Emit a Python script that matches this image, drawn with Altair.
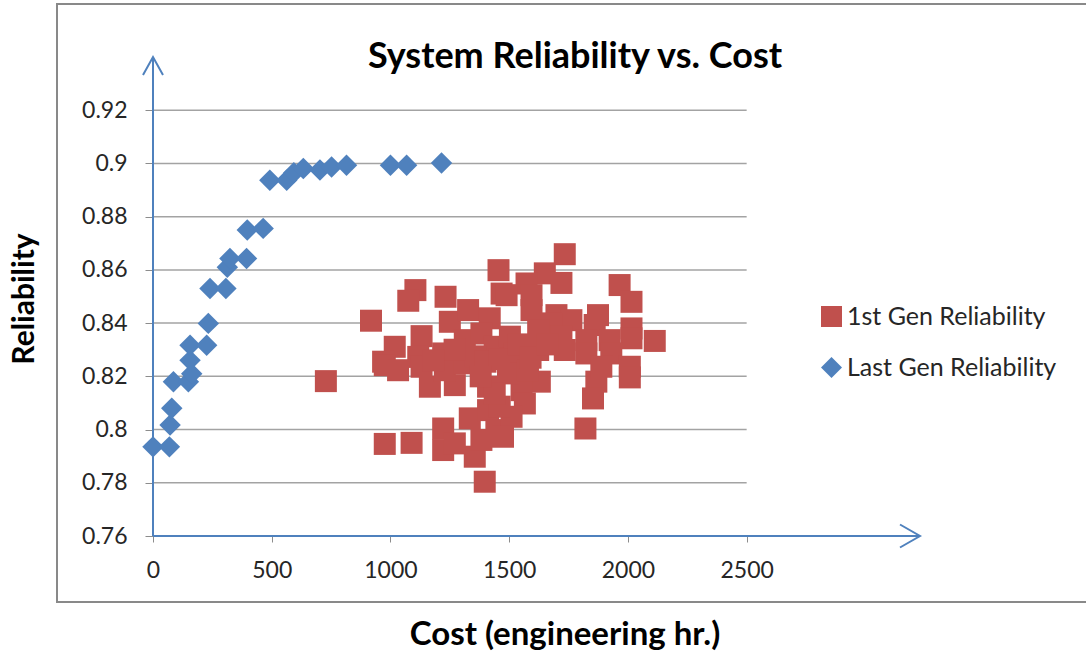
import altair as alt
import pandas as pd

# ---- data -----------------------------------------------------------------
SERIES = ["1st Gen Reliability", "Last Gen Reliability"]

LAST_GEN_COST = [0, 69, 72, 79, 86, 149, 163, 156, 156, 226, 233, 240, 307, 313,
                 324, 394, 397, 464, 492, 563, 593, 633, 703, 752, 815, 1000,
                 1068, 1215]
LAST_GEN_REL = [0.7935, 0.7935, 0.8017, 0.8080, 0.8180, 0.8180, 0.8210, 0.8260,
                0.8317, 0.8317, 0.8399, 0.8530, 0.8530, 0.8610, 0.8643, 0.8643,
                0.8750, 0.8756, 0.8937, 0.8937, 0.8965, 0.8981, 0.8975, 0.8987,
                0.8993, 0.8993, 0.8993, 0.9002]

FIRST_GEN_COST = [918, 728, 976, 1089, 1105, 1075, 1232, 1455, 1468, 1250,
                  1327, 1418, 1131, 1018, 969, 1117, 1222, 1313, 1383, 1439,
                  1734, 1650, 1720, 1573, 1965, 2015, 1489, 1594, 1594, 1699,
                  1762, 1874, 1860, 2015, 1678, 1622, 1720, 1825, 1923, 2015,
                  1503, 1622, 1734, 1825, 1930, 1524, 2008, 2113, 976, 1032,
                  1166, 1271, 1229, 1411, 1131, 1313, 1222, 1222, 1355, 1397,
                  1334, 1411, 1446, 1383, 1271, 2008, 1867, 1853, 1821, 1888,
                  1629, 1552, 1566, 1510, 1474, 1460, 1495, 1579, 1439, 1360,
                  1400, 1460, 1540, 1270, 1180, 1380, 1590, 1660]
FIRST_GEN_REL = [0.8409, 0.8182, 0.7946, 0.7950, 0.8524, 0.8484, 0.8499, 0.8599,
                 0.8511, 0.8405, 0.8449, 0.8418, 0.8351, 0.8311, 0.8255, 0.8273,
                 0.8286, 0.8336, 0.8361, 0.8311, 0.8659, 0.8587, 0.8551, 0.8549,
                 0.8543, 0.8480, 0.8505, 0.8505, 0.8449, 0.8430, 0.8411, 0.8430,
                 0.8393, 0.8380, 0.8399, 0.8374, 0.8349, 0.8336, 0.8336, 0.8343,
                 0.8349, 0.8299, 0.8299, 0.8286, 0.8286, 0.8286, 0.8236, 0.8333,
                 0.8242, 0.8223, 0.8161, 0.8167, 0.8223, 0.8161, 0.8236, 0.8249,
                 0.8004, 0.7923, 0.7898, 0.7804, 0.8042, 0.8073, 0.7998, 0.7961,
                 0.7948, 0.8196, 0.8180, 0.8117, 0.8004, 0.8236, 0.8180, 0.8148,
                 0.8098, 0.8048, 0.7973, 0.8086, 0.8211, 0.8223, 0.8136, 0.8275,
                 0.8255, 0.8265, 0.8320, 0.8300, 0.8260, 0.8200, 0.8270, 0.8320]

X_TICKS = [0, 500, 1000, 1500, 2000, 2500]
Y_TICKS = [0.76, 0.78, 0.80, 0.82, 0.84, 0.86, 0.88, 0.90, 0.92]

# axis extents (the arrows run past the last labelled tick)
X_MAX = 3230
Y_MIN, Y_MAX = 0.76, 0.94

BLUE = "#4F81BD"
RED = "#C0504D"
FONT = "Lato"
TEXT = "#262626"

# ---- frames ---------------------------------------------------------------
points = pd.concat([
    pd.DataFrame({"cost": FIRST_GEN_COST, "rel": FIRST_GEN_REL,
                  "series": SERIES[0], "msize": 484}),
    pd.DataFrame({"cost": LAST_GEN_COST, "rel": LAST_GEN_REL,
                  "series": SERIES[1], "msize": 460}),
], ignore_index=True)

grid = pd.DataFrame({"rel": Y_TICKS[1:], "x0": 0, "x1": X_TICKS[-1]})

axis_lines = pd.DataFrame({
    "x0": [0, 0], "x1": [X_MAX, 0],
    "y0": [Y_MIN, Y_MIN], "y1": [Y_MIN, Y_MAX],
})

arrow_heads = pd.DataFrame({
    "x": [X_MAX, 0],
    "y": [Y_MIN, Y_MAX],
    "path": ["M-1.74,-1L0,0L-1.74,1", "M-1,1.8L0,0L1,1.8"],
    "s": [529, 400],
})

one = pd.DataFrame({"k": [0]})

xs = alt.Scale(domain=[0, X_MAX], nice=False, zero=False)
ys = alt.Scale(domain=[Y_MIN, Y_MAX], nice=False, zero=False)

x_axis = alt.Axis(values=X_TICKS, format="d", domain=False, grid=False,
                  ticks=True, tickSize=6, tickColor="#8c8c8c", tickWidth=1,
                  labelFont=FONT, labelFontSize=23, labelColor=TEXT,
                  labelPadding=17, labelFlush=False, title=None)
y_axis = alt.Axis(values=Y_TICKS, format=".2~f", domain=False, grid=False,
                  ticks=True, tickSize=8, tickColor="#8c8c8c", tickWidth=1,
                  labelFont=FONT, labelFontSize=23, labelColor=TEXT,
                  labelPadding=18, labelFlush=False, title=None)

# ---- layers ---------------------------------------------------------------
frame = alt.Chart(one).mark_rect(fill=None, stroke="#898989", strokeWidth=2).encode(
    x=alt.value(-96), x2=alt.value(960), y=alt.value(-53), y2=alt.value(545)
)

gridlines = alt.Chart(grid).mark_rule(color="#a3a3a3", strokeWidth=1.5).encode(
    x=alt.X("x0:Q", scale=xs, axis=x_axis),
    x2="x1:Q",
    y=alt.Y("rel:Q", scale=ys, axis=y_axis),
)

axes_drawn = alt.Chart(axis_lines).mark_rule(color=BLUE, strokeWidth=2).encode(
    x=alt.X("x0:Q", scale=xs, axis=x_axis),
    x2="x1:Q",
    y=alt.Y("y0:Q", scale=ys, axis=y_axis),
    y2="y1:Q",
)

arrows = alt.Chart(arrow_heads).mark_point(
    filled=False, color=BLUE, strokeWidth=2, opacity=1
).encode(
    x=alt.X("x:Q", scale=xs, axis=x_axis),
    y=alt.Y("y:Q", scale=ys, axis=y_axis),
    shape=alt.Shape("path:N", scale=None),
    size=alt.Size("s:Q", scale=None),
)

markers = alt.Chart(points).mark_point(filled=True, opacity=1).encode(
    x=alt.X("cost:Q", scale=xs, axis=x_axis),
    y=alt.Y("rel:Q", scale=ys, axis=y_axis),
    color=alt.Color(
        "series:N",
        scale=alt.Scale(domain=SERIES, range=[RED, BLUE]),
        legend=alt.Legend(
            orient="none", legendX=666, legendY=247, title=None,
            labelFont=FONT, labelFontSize=25, labelColor=TEXT,
            labelLimit=400, labelOffset=3, rowPadding=25, padding=0,
            symbolSize=441, symbolOpacity=1, symbolStrokeWidth=0,
        ),
    ),
    shape=alt.Shape("series:N",
                    scale=alt.Scale(domain=SERIES, range=["square", "diamond"])),
    size=alt.Size("msize:Q", scale=None),
)

title = alt.Chart(one).mark_text(
    font=FONT, fontSize=36, fontWeight="bold", color="black",
    align="center", baseline="alphabetic",
).encode(x=alt.value(422), y=alt.value(11),
         text=alt.value("System Reliability vs. Cost"))

x_title = alt.Chart(one).mark_text(
    font=FONT, fontSize=33, fontWeight="bold", color="black",
    align="center", baseline="alphabetic",
).encode(x=alt.value(412), y=alt.value(588),
         text=alt.value("Cost (engineering hr.)"))

y_title = alt.Chart(one).mark_text(
    font=FONT, fontSize=30, fontWeight="bold", color="black",
    align="center", baseline="middle", angle=270,
).encode(x=alt.value(-128), y=alt.value(242), text=alt.value("Reliability"))

chart = alt.layer(
    frame, gridlines, axes_drawn, arrows, markers, title, x_title, y_title
).properties(
    width=767,
    height=479,
    autosize="none",
    padding={"left": 153, "top": 57, "right": 166, "bottom": 118},
    background="white",
).configure_view(stroke=None)

chart.save("out.html", embed_options={"renderer": "svg", "actions": False})
